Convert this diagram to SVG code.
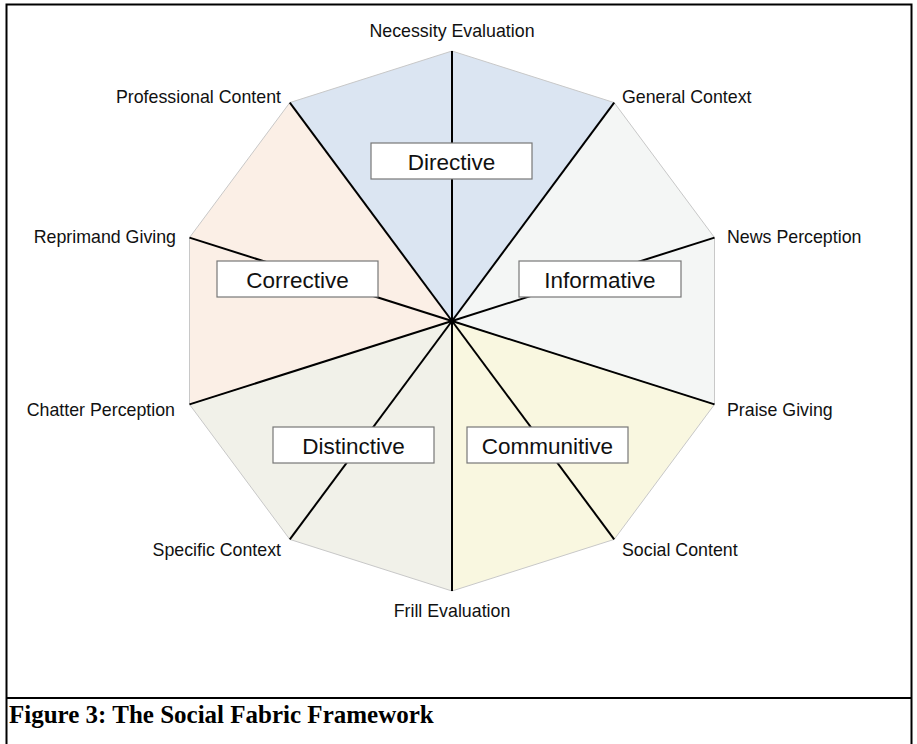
<svg xmlns="http://www.w3.org/2000/svg" width="917" height="744" viewBox="0 0 917 744">
<style>
.lbl{font-family:"Liberation Sans",Arial,sans-serif;font-size:17.8px;fill:#111}
.box rect{fill:#fff;stroke:#777;stroke-width:1.2}
.box text{font-family:"Liberation Sans",Arial,sans-serif;font-size:22.5px;fill:#111;text-anchor:middle}
.spoke{stroke:#000;stroke-width:2}
.sec{stroke:#c8c8c8;stroke-width:1}
.cap{font-family:"Liberation Serif","Times New Roman",serif;font-weight:bold;font-size:25px;fill:#000}
</style>
<rect x="0" y="0" width="917" height="744" fill="#fff"/>
<rect x="6.5" y="4.5" width="905" height="760" fill="none" stroke="#000" stroke-width="2"/>
<line x1="6.5" y1="698" x2="911.5" y2="698" stroke="#000" stroke-width="2"/>
<text class="cap" x="9" y="723">Figure 3: The Social Fabric Framework</text>
<g id="sectors">
<path class="sec" d="M452,321 L289.8,102.6 L452,51 L614.2,102.6 Z" fill="#dbe5f2"/>
<path class="sec" d="M452,321 L614.2,102.6 L714.5,237.6 L714.5,404.4 Z" fill="#f4f6f5"/>
<path class="sec" d="M452,321 L714.5,404.4 L614.2,539.4 L452,591 Z" fill="#f9f7e0"/>
<path class="sec" d="M452,321 L452,591 L289.8,539.4 L189.5,404.4 Z" fill="#f1f1e9"/>
<path class="sec" d="M452,321 L189.5,404.4 L189.5,237.6 L289.8,102.6 Z" fill="#fbefe6"/>
</g>
<g id="connectors">
<line class="spoke" x1="452" y1="321" x2="452" y2="51"/>
<line class="spoke" x1="452" y1="321" x2="614.2" y2="102.6"/>
<line class="spoke" x1="452" y1="321" x2="714.5" y2="237.6"/>
<line class="spoke" x1="452" y1="321" x2="714.5" y2="404.4"/>
<line class="spoke" x1="452" y1="321" x2="614.2" y2="539.4"/>
<line class="spoke" x1="452" y1="321" x2="452" y2="591"/>
<line class="spoke" x1="452" y1="321" x2="289.8" y2="539.4"/>
<line class="spoke" x1="452" y1="321" x2="189.5" y2="404.4"/>
<line class="spoke" x1="452" y1="321" x2="189.5" y2="237.6"/>
<line class="spoke" x1="452" y1="321" x2="289.8" y2="102.6"/>
</g>
<g id="labels">
<text class="lbl" x="452" y="37" text-anchor="middle">Necessity Evaluation</text>
<text class="lbl" x="622" y="103">General Context</text>
<text class="lbl" x="281" y="103" text-anchor="end">Professional Content</text>
<text class="lbl" x="727" y="243">News Perception</text>
<text class="lbl" x="176" y="243" text-anchor="end">Reprimand Giving</text>
<text class="lbl" x="727" y="416">Praise Giving</text>
<text class="lbl" x="175" y="416" text-anchor="end">Chatter Perception</text>
<text class="lbl" x="622" y="556">Social Content</text>
<text class="lbl" x="281" y="556" text-anchor="end">Specific Context</text>
<text class="lbl" x="452" y="617" text-anchor="middle">Frill Evaluation</text>
</g>
<g id="directive" class="box"><rect x="371" y="143" width="161" height="36"/><text x="451.5" y="170">Directive</text></g>
<g id="corrective" class="box"><rect x="217" y="261" width="161" height="36"/><text x="297.5" y="288">Corrective</text></g>
<g id="informative" class="box"><rect x="519" y="261" width="162" height="36"/><text x="600" y="288">Informative</text></g>
<g id="distinctive" class="box"><rect x="273" y="427" width="161" height="36"/><text x="353.5" y="454">Distinctive</text></g>
<g id="communitive" class="box"><rect x="467" y="427" width="161" height="36"/><text x="547.5" y="454">Communitive</text></g>
</svg>
